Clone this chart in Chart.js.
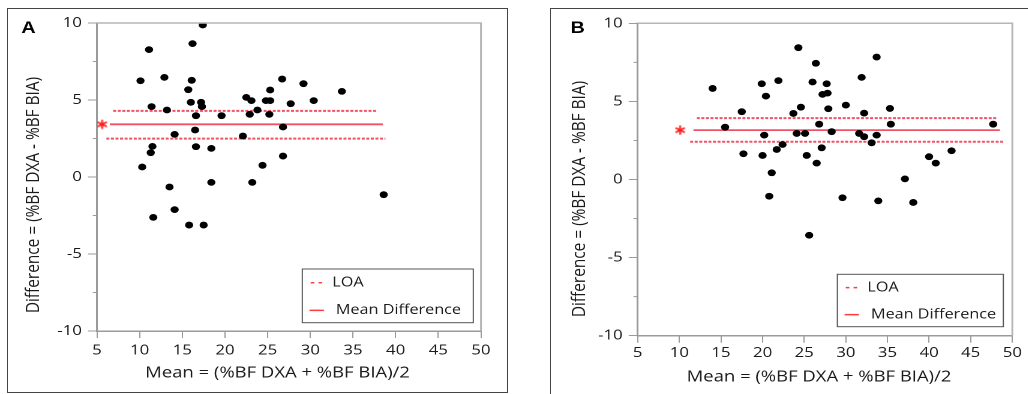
<!DOCTYPE html>
<html>
<head>
<meta charset="utf-8">
<script src="https://cdn.jsdelivr.net/npm/chart.js@4.4.1/dist/chart.umd.min.js"></script>
<style>
  html, body { margin: 0; padding: 0; background: #fff; }
  body { width: 1028px; height: 394px; overflow: hidden; position: relative; }
  .frame { position: absolute; border: 1.5px solid #444; box-sizing: border-box; }
  /* the source figure is stretched sideways, so each panel is too */
  .panel { position: absolute; top: 0; transform-origin: 0 0; transform: scaleX(1.2); }
</style>
</head>
<body>
<div class="frame" style="left:7px;top:8px;width:501px;height:385px"></div>
<div class="frame" style="left:550px;top:8px;width:490px;height:392px"></div>
<div class="panel" style="left:0"><canvas id="chartA" width="433" height="394"></canvas></div>
<div class="panel" style="left:540px"><canvas id="chartB" width="407" height="394"></canvas></div>
<script>
// panel A: mean of the two methods vs difference
const meanA = [17.4, 16.2, 11.1, 10.1, 12.9, 16.1, 15.7, 16.0, 17.2, 17.3, 11.4, 13.2, 16.6, 19.6, 16.5, 14.1,
  11.5, 11.3, 16.6, 18.4, 10.3, 18.4, 13.5, 14.1, 11.6, 15.8, 17.5, 26.7, 29.2, 25.3, 33.7, 22.5,
  23.1, 24.8, 25.3, 27.7, 30.4, 23.8, 22.9, 25.2, 26.8, 22.1, 26.8, 24.4, 23.2, 38.6];
const diffA = [9.87, 8.66, 8.27, 6.25, 6.47, 6.28, 5.67, 4.85, 4.85, 4.57, 4.57, 4.35, 3.98, 3.98, 3.05, 2.77,
  1.99, 1.58, 1.97, 1.86, 0.65, -0.35, -0.65, -2.12, -2.62, -3.12, -3.12, 6.36, 6.06, 5.65, 5.56, 5.17,
  4.96, 4.96, 4.96, 4.76, 4.96, 4.35, 4.07, 4.07, 3.25, 2.66, 1.36, 0.76, -0.35, -1.15];
const biasA = 3.42;
const loaA = [4.29, 2.49];
const biasSpanA = [6.5, 38.5];
const upperSpanA = [6.9, 37.9];
const lowerSpanA = [6.1, 38.8];
const starXA = 5.6;

// panel B
const meanB = [14.0, 15.5, 17.5, 17.7, 19.9, 20.0, 20.2, 20.4, 20.8, 21.1, 21.7, 21.9, 22.4, 23.7, 24.1, 24.3,
  24.6, 25.1, 25.3, 25.6, 26.0, 26.4, 26.5, 26.8, 27.1, 27.2, 27.7, 27.8, 27.9, 28.3, 29.6, 30.0,
  31.6, 31.9, 32.2, 32.2, 33.1, 33.7, 33.7, 33.9, 35.3, 35.4, 37.1, 38.1, 40.0, 40.8, 42.7, 47.7];
const diffB = [5.83, 3.35, 4.34, 1.65, 6.13, 1.54, 2.84, 5.34, -1.07, 0.43, 1.92, 6.33, 2.24, 4.23, 2.95, 8.44,
  4.63, 2.95, 1.54, -3.57, 6.24, 7.44, 1.05, 3.54, 2.03, 5.45, 6.13, 5.53, 4.53, 3.06, -1.17, 4.76,
  2.95, 6.54, 4.25, 2.74, 2.35, 7.84, 2.84, -1.37, 4.55, 3.54, 0.04, -1.47, 1.46, 1.05, 1.84, 3.54];
const biasB = 3.16;
const loaB = [3.93, 2.42];
const biasSpanB = [11.7, 48.5];
const upperSpanB = [12.1, 48.1];
const lowerSpanB = [11.3, 48.9];
const starXB = 10.1;

const xTicks = [5, 10, 15, 20, 25, 30, 35, 40, 45, 50];
const yTicks = [-10, -5, 0, 5, 10];
const yMinorTicks = [-7.5, -2.5, 2.5, 7.5];
const xTitle = 'Mean = (%BF DXA + %BF BIA)/2';
const yTitle = 'Difference = (%BF DXA - %BF BIA)';
const legendLabels = ['LOA', 'Mean Difference'];

const LINE_RED = 'rgb(240, 82, 104)';
const LEGEND_RED = '#ff3b3b';
const AXIS_GREY = '#9a9a9a';
const TEXT = '#1a1a1a';
const FONT = '"Open Sans", "Noto Sans", sans-serif';

function asterisk(color) {
  const c = document.createElement('canvas');
  c.width = 10; c.height = 10;
  const g = c.getContext('2d');
  g.strokeStyle = color; g.lineWidth = 1.6; g.lineCap = 'round';
  [90, 30, 150].forEach(a => {
    const r = a * Math.PI / 180, dx = Math.cos(r) * 3.9, dy = Math.sin(r) * 3.9;
    g.beginPath(); g.moveTo(5 - dx, 5 - dy); g.lineTo(5 + dx, 5 + dy); g.stroke();
  });
  return c;
}

const decor = {
  id: 'decor',
  afterDraw(chart, args, o) {
    const { ctx, chartArea: a, scales: { y } } = chart;
    ctx.save();
    // grey top and right edge of the plot box
    ctx.strokeStyle = '#b5b5b5'; ctx.lineWidth = 1.5;
    ctx.beginPath(); ctx.moveTo(a.left, a.top); ctx.lineTo(a.right, a.top); ctx.lineTo(a.right, a.bottom); ctx.stroke();
    // minor y ticks
    ctx.strokeStyle = AXIS_GREY; ctx.lineWidth = 1;
    yMinorTicks.forEach(v => {
      const py = y.getPixelForValue(v);
      ctx.beginPath(); ctx.moveTo(a.left - 3.5, py); ctx.lineTo(a.left, py); ctx.stroke();
    });
    // axis titles
    ctx.fillStyle = TEXT; ctx.textAlign = 'center'; ctx.textBaseline = 'middle';
    ctx.font = '15.4px ' + FONT;
    ctx.fillText(xTitle, o.xTitle[0], o.xTitle[1]);
    ctx.save();
    ctx.translate(o.yTitle[0], o.yTitle[1]); ctx.rotate(-Math.PI / 2);
    ctx.fillText(yTitle, 0, 0);
    ctx.restore();
    // panel letter
    ctx.fillStyle = '#000'; ctx.font = 'bold 16.5px "Liberation Sans", Arial, sans-serif';
    ctx.fillText(o.letter, o.letterAt[0], o.letterAt[1]);
    // legend
    const [lx, ly, lw, lh] = o.legend;
    ctx.strokeStyle = '#555'; ctx.lineWidth = 1;
    ctx.strokeRect(lx, ly, lw, lh);
    ctx.textAlign = 'left'; ctx.fillStyle = TEXT; ctx.font = '13.5px ' + FONT;
    ctx.strokeStyle = LEGEND_RED; ctx.lineWidth = 1.5;
    const rows = [lh * 0.255, lh * 0.77];
    ctx.setLineDash([3, 3.5]);
    ctx.beginPath(); ctx.moveTo(lx + 7, ly + rows[0]); ctx.lineTo(lx + 20, ly + rows[0]); ctx.stroke();
    ctx.setLineDash([]);
    ctx.beginPath(); ctx.moveTo(lx + 6, ly + rows[1]); ctx.lineTo(lx + 18, ly + rows[1]); ctx.stroke();
    ctx.fillText(legendLabels[0], lx + 25, ly + rows[0]);
    ctx.fillText(legendLabels[1], lx + 28, ly + rows[1]);
    ctx.restore();
  }
};

function hline(span, value, dash) {
  return {
    data: [{ x: span[0], y: value }, { x: span[1], y: value }],
    showLine: true, borderColor: LINE_RED, borderWidth: dash ? 2 : 1.8,
    borderDash: dash ? [2.5, 1.3] : [], pointRadius: 0
  };
}

function makeChart(id, p) {
  const tickFont = { family: FONT, size: 14 };
  return new Chart(document.getElementById(id), {
    type: 'scatter',
    data: {
      datasets: [
        {
          data: p.mean.map((m, i) => ({ x: m, y: p.diff[i] })),
          backgroundColor: '#000', borderWidth: 0, pointRadius: 3.4
        },
        hline(p.upperSpan, p.loa[0], true),
        hline(p.lowerSpan, p.loa[1], true),
        hline(p.biasSpan, p.bias, false),
        { data: [{ x: p.starX, y: p.bias }], pointStyle: asterisk('#ff1a1a'), pointRadius: 5 }
      ]
    },
    options: {
      responsive: false,
      animation: false,
      devicePixelRatio: 2,
      layout: { padding: { left: 0, top: p.top, right: p.right, bottom: 0 } },
      plugins: { legend: { display: false }, tooltip: { enabled: false }, decor: p.decor },
      events: [],
      scales: {
        x: {
          type: 'linear', min: 5, max: 50,
          afterBuildTicks: s => { s.ticks = xTicks.map(v => ({ value: v })); },
          afterFit: s => { s.height = p.xAxisHeight; },
          grid: { drawOnChartArea: false, tickLength: 7, tickColor: AXIS_GREY, tickWidth: 1 },
          border: { color: AXIS_GREY, width: 1.5 },
          ticks: { color: TEXT, font: tickFont, padding: p.xPad, maxRotation: 0, autoSkip: false }
        },
        y: {
          type: 'linear', min: -10, max: 10,
          afterBuildTicks: s => { s.ticks = yTicks.map(v => ({ value: v })); },
          afterFit: s => { s.width = p.yAxisWidth; },
          grid: { drawOnChartArea: false, tickLength: 7.5, tickColor: AXIS_GREY, tickWidth: 1 },
          border: { color: AXIS_GREY, width: 1.5 },
          ticks: { color: TEXT, font: tickFont, padding: 5 }
        }
      }
    },
    plugins: [decor]
  });
}

makeChart('chartA', {
  mean: meanA, diff: diffA, bias: biasA, loa: loaA,
  biasSpan: biasSpanA, upperSpan: upperSpanA, lowerSpan: lowerSpanA, starX: starXA,
  top: 23, right: 32.2, xAxisHeight: 63, yAxisWidth: 80.8, xPad: 4,
  decor: { xTitle: [231.3, 373], yTitle: [28.3, 195], letter: 'A', letterAt: [23.7, 28.5],
    legend: [251.9, 269, 142.5, 53.7] }
});

makeChart('chartB', {
  mean: meanB, diff: diffB, bias: biasB, loa: loaB,
  biasSpan: biasSpanB, upperSpan: upperSpanB, lowerSpan: lowerSpanB, starX: starXB,
  top: 23.3, right: 13.4, xAxisHeight: 58.3, yAxisWidth: 81.4, xPad: 2,
  decor: { xTitle: [232.5, 377], yTitle: [33.3, 199], letter: 'B', letterAt: [31.3, 28.5],
    legend: [247.8, 274.3, 138.3, 52.4] }
});
</script>
</body>
</html>
